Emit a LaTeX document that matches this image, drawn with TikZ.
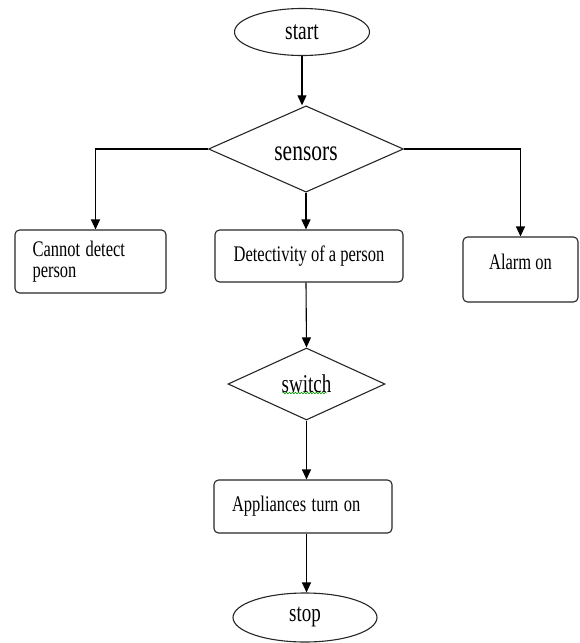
\documentclass[tikz,border=0pt]{standalone}
\usepackage{fontspec}
\setmainfont{Liberation Serif}
\usetikzlibrary{shapes.geometric,arrows.meta,decorations.pathmorphing,calc}
\newcommand{\tx}[1]{\scalebox{1}[1.35]{#1}}
\begin{document}
\begin{tikzpicture}[x=1pt,y=-1pt, line width=1.1pt,
  lbl/.style={font=\fontsize{16.5}{21.5}\selectfont},
  box/.style={lbl, draw=black!85, rounded corners=4.5pt, inner sep=0pt},
  term/.style={lbl, draw=black!85, ellipse, inner sep=0pt},
  dec/.style={lbl, draw=black!85, diamond, inner sep=0pt},
  arr/.style={-{Triangle[length=10pt,width=9pt]}}]
\useasboundingbox (0,0) rectangle (579,643);
\node[term, minimum width=135, minimum height=47, font=\fontsize{19.5}{22}\selectfont] (start) at (302,32) {\tx{start}};
\node[dec, minimum width=195, minimum height=72, font=\fontsize{21.5}{24}\selectfont, text height=23pt, text depth=0pt] (sensors) at (306,149) {\tx{sensors}};
\node[box, minimum width=151, minimum height=63, text width=116, align=left] (cannot) at (90.5,261.5) {\tx{Cannot detect}\\\tx{person}};
\node[box, minimum width=188, minimum height=52] (detect) at (309,256) {\tx{Detectivity of a person}};
\node[box, minimum width=115, minimum height=65, text height=12pt, text depth=12pt] (alarm) at (520.5,269.5) {\tx{Alarm on}};
\node[dec, minimum width=157, minimum height=72, font=\fontsize{19}{22}\selectfont] (sw) at (306.5,384) {\tx{switch}};
\node[box, minimum width=178, minimum height=53, text width=142, align=left] (appl) at (303,506.5) {\tx{Appliances turn on}};
\node[term, minimum width=144, minimum height=49, font=\fontsize{19}{22}\selectfont] (stop) at (305,617.5) {\tx{stop}};
\draw[arr] (start.south) -- (start.south |- sensors.north);
\draw[arr] (sensors.west) -| ([xshift=5pt]cannot.north);
\draw[arr] (sensors.south) -- (sensors.south |- detect.north);
\draw[arr] (sensors.east) -| (alarm.north);
\draw[arr] (sensors.south |- detect.south) -- (sw.north);
\draw[arr] (sw.south) -- (sw.south |- appl.north);
\draw[arr] (sw.south |- appl.south) -- (sw.south |- stop.north);
\draw[green!60!black, line width=0.6pt, decorate, decoration={snake, amplitude=0.8pt, segment length=3pt}]
  ($(sw.center)+(-24,9)$) -- ($(sw.center)+(20,9)$);
\end{tikzpicture}
\end{document}
